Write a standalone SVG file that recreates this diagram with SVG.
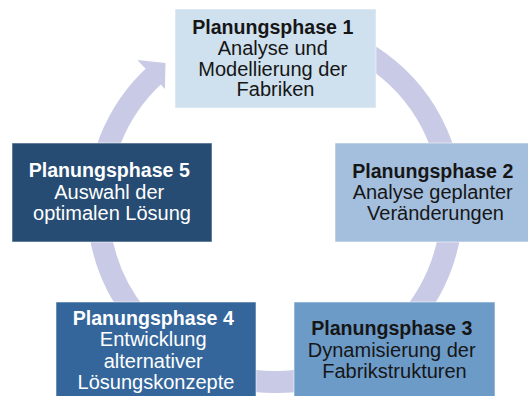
<svg xmlns="http://www.w3.org/2000/svg" width="528" height="396" viewBox="0 0 528 396">
  <style>
    .box { stroke: #ffffff; stroke-opacity: 0.55; stroke-width: 1; }
    .lbl { font-family: "Liberation Sans", Arial, sans-serif; font-size: 20px; text-anchor: middle; }
    .head { font-weight: bold; font-size: 19.6px; }
    .dark { fill: #161616; }
    .light { fill: #ffffff; }
    .ring { fill: none; stroke: #c9cae6; stroke-width: 22; }
  </style>
  <rect width="528" height="396" fill="#ffffff"/>

  <!-- cycle ring behind the phase boxes, ending in an arrowhead before phase 1 -->
  <g id="connectors">
    <path class="ring" d="M 214.5 38.7 A 177 177 0 1 1 155.4 74.5"/>
    <polygon points="137.3,59.9 165.5,63 164.9,89" fill="#c9cae6"/>
  </g>

  <g id="phase1">
    <rect class="box" x="175" y="9" width="201" height="99" fill="#cfe0ee"/>
    <text class="lbl dark">
      <tspan class="head" x="275.5" y="34">Planungsphase 1</tspan>
      <tspan x="275.5" y="55">Analyse und</tspan>
      <tspan x="275.5" y="76">Modellierung der</tspan>
      <tspan x="275.5" y="96">Fabriken</tspan>
    </text>
  </g>

  <g id="phase2">
    <rect class="box" x="335" y="143" width="201" height="99" fill="#a4bfdd"/>
    <text class="lbl dark">
      <tspan class="head" x="435.5" y="178">Planungsphase 2</tspan>
      <tspan x="435.5" y="199">Analyse geplanter</tspan>
      <tspan x="435.5" y="220">Veränderungen</tspan>
    </text>
  </g>

  <g id="phase3">
    <rect class="box" x="294" y="302" width="201" height="99" fill="#6d9bc8"/>
    <text class="lbl dark">
      <tspan class="head" x="394.5" y="335">Planungsphase 3</tspan>
      <tspan x="394.5" y="356.5">Dynamisierung der</tspan>
      <tspan x="394.5" y="377.5">Fabrikstrukturen</tspan>
    </text>
  </g>

  <g id="phase4">
    <rect class="box" x="56" y="302" width="200" height="99" fill="#34669b"/>
    <text class="lbl light">
      <tspan class="head" x="156" y="325">Planungsphase 4</tspan>
      <tspan x="156" y="346">Entwicklung</tspan>
      <tspan x="156" y="367.5">alternativer</tspan>
      <tspan x="156" y="388.5">Lösungskonzepte</tspan>
    </text>
  </g>

  <g id="phase5">
    <rect class="box" x="12" y="143" width="200" height="99" fill="#264c73"/>
    <text class="lbl light">
      <tspan class="head" x="112" y="177">Planungsphase 5</tspan>
      <tspan x="112" y="199">Auswahl der</tspan>
      <tspan x="112" y="220">optimalen Lösung</tspan>
    </text>
  </g>
</svg>
